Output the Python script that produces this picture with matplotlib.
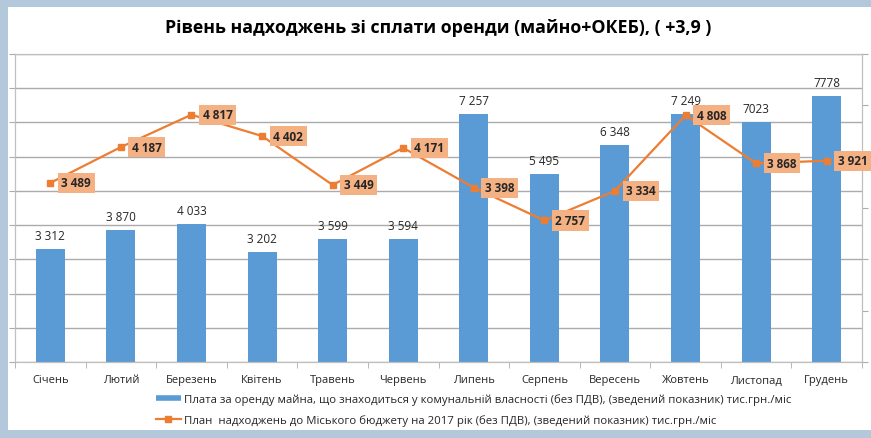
import numpy as np
import matplotlib.pyplot as plt
from matplotlib.patches import Rectangle
from matplotlib.lines import Line2D

plt.rcParams['font.family'] = ['Open Sans', 'DejaVu Sans']

# =========================
# DATA
# =========================
months = ['Січень', 'Лютий', 'Березень', 'Квітень', 'Травень', 'Червень',
          'Липень', 'Серпень', 'Вересень', 'Жовтень', 'Листопад', 'Грудень']
rent = [3312, 3870, 4033, 3202, 3599, 3594, 7257, 5495, 6348, 7249, 7023, 7778]
rent_labels = ['3 312', '3 870', '4 033', '3 202', '3 599', '3 594',
               '7 257', '5 495', '6 348', '7 249', '7023', '7778']
plan = [3489, 4187, 4817, 4402, 3449, 4171, 3398, 2757, 3334, 4808, 3868, 3921]
plan_labels = ['3 489', '4 187', '4 817', '4 402', '3 449', '4 171',
               '3 398', '2 757', '3 334', '4 808', '3 868', '3 921']

title = 'Рівень надходжень зі сплати оренди (майно+ОКЕБ), ( +3,9 )'
legend_labels = [
    'Плата за оренду майна, що знаходиться у комунальній власності (без ПДВ), (зведений показник) тис.грн./міс',
    'План  надходжень до Міського бюджету на 2017 рік (без ПДВ), (зведений показник) тис.грн./міс',
]

BAR = '#5B9BD5'
LINE = '#ED7D31'
BOX = '#F4B183'
GRID = '#ababab'
TXT = '#262626'

# =========================
# FIGURE / FRAME
# =========================
W, H = 871, 439
fig = plt.figure(figsize=(W / 100, H / 100), dpi=100)
fig.patch.set_facecolor('#b4c8dc')
fig.patches.append(Rectangle((8 / W, 8 / H), 1, (H - 16) / H,
                             transform=fig.transFigure, facecolor='white',
                             edgecolor='none', zorder=-5))

ax = fig.add_axes([15 / W, (H - 363) / H, (862 - 15) / W, (363 - 55) / H])
ax.set_zorder(1)
x = np.arange(len(months))

# bars
ax.bar(x, rent, width=0.41, color=BAR, zorder=2)
ax.set_ylim(0, 9000)
ax.set_xlim(-0.5, len(months) - 0.5)
ax.set_yticks(range(0, 9001, 1000))
ax.yaxis.grid(True, color=GRID, lw=1)
ax.set_axisbelow(True)
ax.tick_params(axis='y', labelleft=False, length=4, color=GRID)

ax.set_xticks(x)
ax.set_xticklabels(months, fontsize=8, color=TXT)
ax.set_xticks(np.arange(-0.5, len(months), 1), minor=True)
ax.tick_params(axis='x', which='major', length=0, pad=9)
ax.tick_params(axis='x', which='minor', length=4, color=GRID)

for s in ax.spines.values():
    s.set_color('#bfbfbf')

for xi, v, lbl in zip(x, rent, rent_labels):
    ax.annotate(lbl, (xi, v), xytext=(0, 5), textcoords='offset points',
                ha='center', va='bottom', fontsize=8.5, color=TXT)

# line on secondary axis
ax2 = ax.twinx()
ax2.set_ylim(0, 6000)
ax2.set_yticks(range(0, 6001, 1000))
ax2.tick_params(axis='y', labelright=False, length=4, color=GRID)
for s in ax2.spines.values():
    s.set_color('#bfbfbf')
ax2.plot(x, plan, color=LINE, lw=1.6, marker='s', ms=4, zorder=3)

for xi, v, lbl in zip(x, plan, plan_labels):
    ax2.annotate(lbl, (xi, v), xytext=(8, 0), textcoords='offset points',
                 ha='left', va='center', fontsize=8.5, fontweight='bold', color=TXT,
                 bbox=dict(boxstyle='square,pad=0.3', fc=BOX, ec='none'))

# =========================
# TITLE / LEGEND
# =========================
fig.text(438.5 / W, (H - 28) / H, title, ha='center', va='center',
         fontsize=12.8, fontweight='bold', color='black')

handles = [
    Line2D([], [], color=BAR, lw=4, solid_capstyle='butt'),
    Line2D([], [], color=LINE, lw=1.6, marker='s', ms=4),
]
fig.legend(handles, legend_labels, loc='center left',
           bbox_to_anchor=(150 / W, (H - 410.5) / H), frameon=False,
           fontsize=8.2, handlelength=2.2, handletextpad=0.3,
           labelspacing=0.75, borderpad=0, labelcolor=TXT)

plt.savefig('out.png', dpi=100)
